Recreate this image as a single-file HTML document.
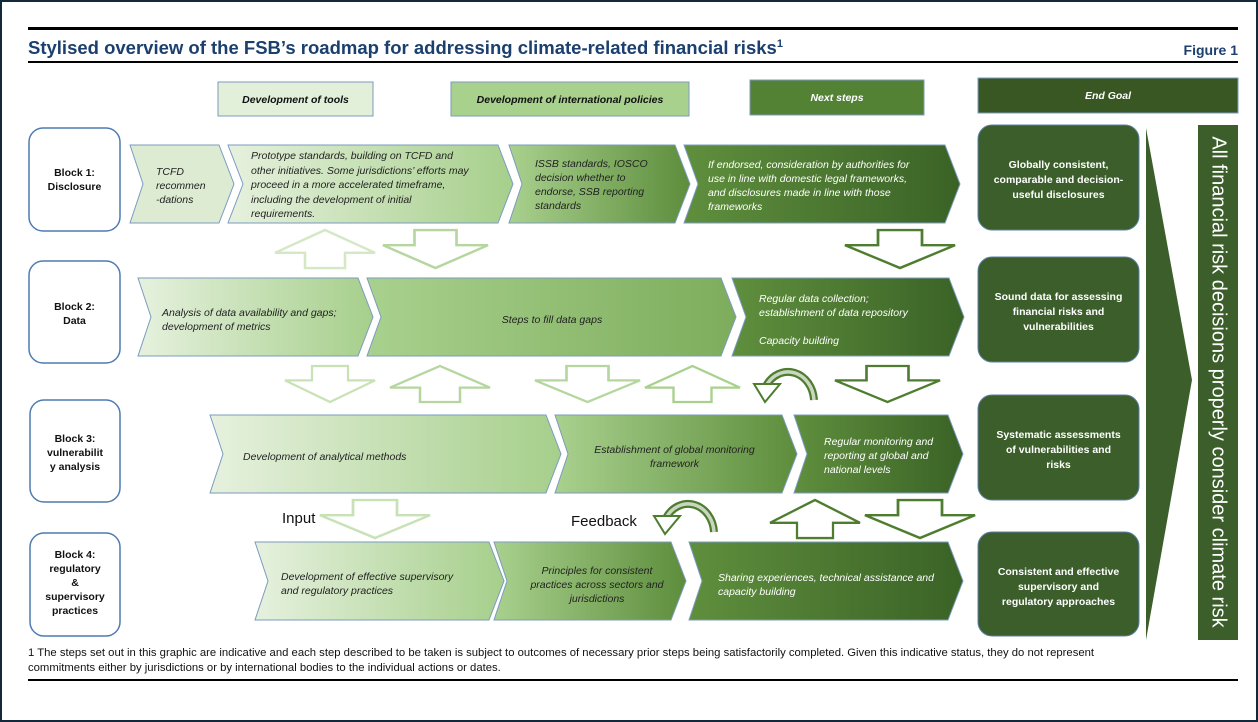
<!DOCTYPE html>
<html><head><meta charset="utf-8"><style>
*{margin:0;padding:0;box-sizing:border-box}
body{width:1258px;height:722px;background:#fff;position:relative;overflow:hidden;font-family:"Liberation Sans",Arial,sans-serif;border:2px solid #13283a}
.t{position:absolute;font-style:italic;font-size:10.5px;line-height:14px;color:#222;white-space:nowrap}
.w{color:#fff}
.c{text-align:center}
.b{position:absolute;font-weight:bold;font-size:10.5px;line-height:14px;text-align:center;color:#111}
.g{position:absolute;font-weight:bold;font-size:10.5px;line-height:15px;text-align:center;color:#fff;white-space:nowrap}
.h{position:absolute;font-weight:bold;font-style:italic;font-size:10.5px;text-align:center;color:#111}
</style></head><body>
<svg width="1258" height="722" style="position:absolute;left:-2px;top:-2px">
<defs>
<linearGradient id="g1"><stop offset="0" stop-color="#e6f1de"/><stop offset="1" stop-color="#a6cf8b"/></linearGradient>
<linearGradient id="g2"><stop offset="0" stop-color="#a9d18e"/><stop offset="1" stop-color="#5d8d3c"/></linearGradient>
<linearGradient id="g3"><stop offset="0" stop-color="#5f8f3d"/><stop offset="1" stop-color="#3a6226"/></linearGradient>
<linearGradient id="gb"><stop offset="0" stop-color="#a9d18e"/><stop offset="1" stop-color="#7dad5c"/></linearGradient>
<polygon id="dn" points="30,0 70,0 70,16 100,16 50,40 0,16 30,16" />
<polygon id="up" points="50,0 100,24 70,24 70,40 30,40 30,24 0,24" />
</defs>
<rect x="28" y="27" width="1210" height="3" fill="#000"/>
<rect x="28" y="61" width="1210" height="2" fill="#000"/>
<rect x="28" y="679" width="1210" height="2" fill="#000"/>
<rect x="218" y="82" width="155" height="34" fill="#e2efd9" stroke="#7b9bc0"/>
<rect x="451" y="82" width="238" height="34" fill="#a9d18e" stroke="#7b9bc0"/>
<rect x="750" y="80" width="174" height="35" fill="#548235" stroke="#7b9bc0"/>
<rect x="978" y="78" width="260" height="35" fill="#385723" stroke="#7b9bc0"/>
<g fill="#fff" stroke="#4f7bb0" stroke-width="1.5">
<rect x="29" y="128" width="91" height="103" rx="14"/>
<rect x="29" y="261" width="91" height="102" rx="14"/>
<rect x="30" y="400" width="90" height="102" rx="14"/>
<rect x="30" y="533" width="90" height="103" rx="14"/>
</g>
<g fill="#3b5e2b" stroke="#5b7fa8">
<rect x="978" y="125" width="161" height="105" rx="14"/>
<rect x="978" y="257" width="161" height="105" rx="14"/>
<rect x="978" y="395" width="161" height="105" rx="14"/>
<rect x="978" y="532" width="161" height="104" rx="14"/>
</g>
<polygon points="1146,128 1192,380 1146,640" fill="#3b5e2b"/>
<rect x="1198" y="125" width="40" height="515" fill="#3b5e2b"/>
<g stroke="#7b9bc0" stroke-width="1">
<polygon points="130,145 219,145 234,184 219,223 130,223 143,184" fill="#dcebd2"/>
<polygon points="228,145 498,145 513,184 498,223 228,223 243,184" fill="url(#g1)"/>
<polygon points="509,145 675,145 690,184 675,223 509,223 522,184" fill="url(#g2)"/>
<polygon points="684,145 945,145 960,184 945,223 684,223 698,184" fill="url(#g3)"/>
<polygon points="138,278 358,278 373,317 358,356 138,356 151,317" fill="url(#g1)"/>
<polygon points="367,278 721,278 736,317 721,356 367,356 381,317" fill="url(#gb)"/>
<polygon points="732,278 949,278 964,317 949,356 732,356 746,317" fill="url(#g3)"/>
<polygon points="210,415 546,415 561,454 546,493 210,493 223,454" fill="url(#g1)"/>
<polygon points="555,415 782,415 797,454 782,493 555,493 568,454" fill="url(#g2)"/>
<polygon points="794,415 948,415 963,454 948,493 794,493 807,454" fill="url(#g3)"/>
<polygon points="255,542 489,542 504,581 489,620 255,620 268,581" fill="url(#g1)"/>
<polygon points="494,542 671,542 686,581 671,620 494,620 507,581" fill="url(#g2)"/>
<polygon points="689,542 948,542 963,581 948,620 689,620 702,581" fill="url(#g3)"/>
</g>
<g fill="#fff" stroke-width="2.5">
<use href="#up" transform="translate(275,230) scale(1,0.95)" stroke="#d4e8c6"/>
<use href="#dn" transform="translate(383,230) scale(1.05,0.95)" stroke="#b5d69f"/>
<use href="#dn" transform="translate(845,230) scale(1.1,0.95)" stroke="#4e7d30"/>
<use href="#dn" transform="translate(285,366) scale(0.9,0.9)" stroke="#c8e2b6"/>
<use href="#up" transform="translate(390,366) scale(1.0,0.9)" stroke="#b5d69f"/>
<use href="#dn" transform="translate(535,366) scale(1.05,0.9)" stroke="#b5d69f"/>
<use href="#up" transform="translate(645,366) scale(0.95,0.9)" stroke="#a9d18e"/>
<use href="#dn" transform="translate(835,366) scale(1.05,0.9)" stroke="#4e7d30"/>
<use href="#dn" transform="translate(320,500) scale(1.1,0.95)" stroke="#c8e2b6"/>
<use href="#up" transform="translate(770,500) scale(0.9,0.95)" stroke="#4e7d30"/>
<use href="#dn" transform="translate(865,500) scale(1.1,0.95)" stroke="#4e7d30"/>
</g>
<g fill="none">
<path d="M814,400 A26,30 0 0 0 766,386" stroke="#4e7d30" stroke-width="8"/>
<path d="M814,400 A26,30 0 0 0 766,386" stroke="#c9d6c0" stroke-width="3.5"/>
<path d="M714,532 A26,30 0 0 0 666,518" stroke="#4e7d30" stroke-width="8"/>
<path d="M714,532 A26,30 0 0 0 666,518" stroke="#c9d6c0" stroke-width="3.5"/>
</g>
<polygon points="754,384 780,384 765,402" fill="#fff" stroke="#4e7d30" stroke-width="2"/>
<polygon points="654,516 680,516 665,534" fill="#fff" stroke="#4e7d30" stroke-width="2"/>
<text x="1218" y="382" transform="rotate(90 1218 382)" text-anchor="middle" dominant-baseline="middle" fill="#fff" font-family="Liberation Sans, sans-serif" font-size="20">All financial risk decisions properly consider climate risk</text>
</svg>

<div style="position:absolute;left:26px;top:35px;font-size:18.5px;font-weight:bold;color:#1b3f6e">Stylised overview of the FSB’s roadmap for addressing climate-related financial risks<sup style="font-size:11px">1</sup></div>
<div style="position:absolute;right:18px;top:40px;font-size:14px;font-weight:bold;color:#1b3f6e">Figure 1</div>

<div class="h" style="left:216px;top:92px;width:155px">Development of tools</div>
<div class="h" style="left:449px;top:92px;width:238px">Development of international policies</div>
<div class="h" style="left:748px;top:90px;width:174px;color:#fff">Next steps</div>
<div class="h" style="left:976px;top:88px;width:260px;color:#fff">End Goal</div>

<div class="b" style="left:27px;top:164px;width:91px">Block 1:<br>Disclosure</div>
<div class="b" style="left:27px;top:298px;width:91px">Block 2:<br>Data</div>
<div class="b" style="left:28px;top:430px;width:90px">Block 3:<br>vulnerabilit<br>y analysis</div>
<div class="b" style="left:28px;top:546px;width:90px">Block 4:<br>regulatory<br>&amp;<br>supervisory<br>practices</div>

<div class="t" style="left:154px;top:163px">TCFD<br>recommen<br>-dations</div>
<div class="t" style="left:249px;top:147px;line-height:14.5px">Prototype standards, building on TCFD and<br>other initiatives.  Some jurisdictions’ efforts may<br>proceed in a more accelerated timeframe,<br>including the development of initial<br>requirements.</div>
<div class="t" style="left:533px;top:155px">ISSB standards, IOSCO<br>decision whether to<br>endorse, SSB reporting<br>standards</div>
<div class="t w" style="left:706px;top:156px">If endorsed, consideration by authorities for<br>use in line with domestic legal frameworks,<br>and disclosures made in line with those<br>frameworks</div>

<div class="t" style="left:160px;top:304px">Analysis of data availability and gaps;<br>development of metrics</div>
<div class="t c" style="left:380px;top:311px;width:340px">Steps to fill data gaps</div>
<div class="t w" style="left:757px;top:290px">Regular data collection;<br>establishment of data repository<br><br>Capacity building</div>

<div class="t" style="left:241px;top:448px">Development of analytical methods</div>
<div class="t c" style="left:570px;top:441px;width:205px">Establishment of  global monitoring<br>framework</div>
<div class="t w" style="left:822px;top:433px">Regular monitoring and<br>reporting at global and<br>national levels</div>

<div class="t" style="left:279px;top:568px">Development  of  effective  supervisory<br>and regulatory practices</div>
<div class="t c" style="left:510px;top:562px;width:170px">Principles for consistent<br>practices across sectors and<br>jurisdictions</div>
<div class="t w" style="left:716px;top:569px">Sharing experiences, technical assistance and<br>capacity building</div>

<div style="position:absolute;left:280px;top:508px;font-size:15px;color:#111">Input</div>
<div style="position:absolute;left:569px;top:511px;font-size:15px;color:#111">Feedback</div>

<div class="g" style="left:976px;top:156px;width:161px">Globally consistent,<br>comparable and decision-<br>useful disclosures</div>
<div class="g" style="left:976px;top:288px;width:161px">Sound data for assessing<br>financial risks and<br>vulnerabilities</div>
<div class="g" style="left:976px;top:426px;width:161px">Systematic assessments<br>of vulnerabilities and<br>risks</div>
<div class="g" style="left:976px;top:563px;width:161px">Consistent and effective<br>supervisory and<br>regulatory approaches</div>

<div style="position:absolute;left:26px;top:644px;width:1215px;font-size:11.3px;line-height:15px;color:#111">1 The steps set out in this graphic are indicative and each step described to be taken is subject to outcomes of necessary prior steps being satisfactorily completed. Given this indicative status, they do not represent<br>commitments either by jurisdictions or by international bodies to the individual actions or dates.</div>
</body></html>
